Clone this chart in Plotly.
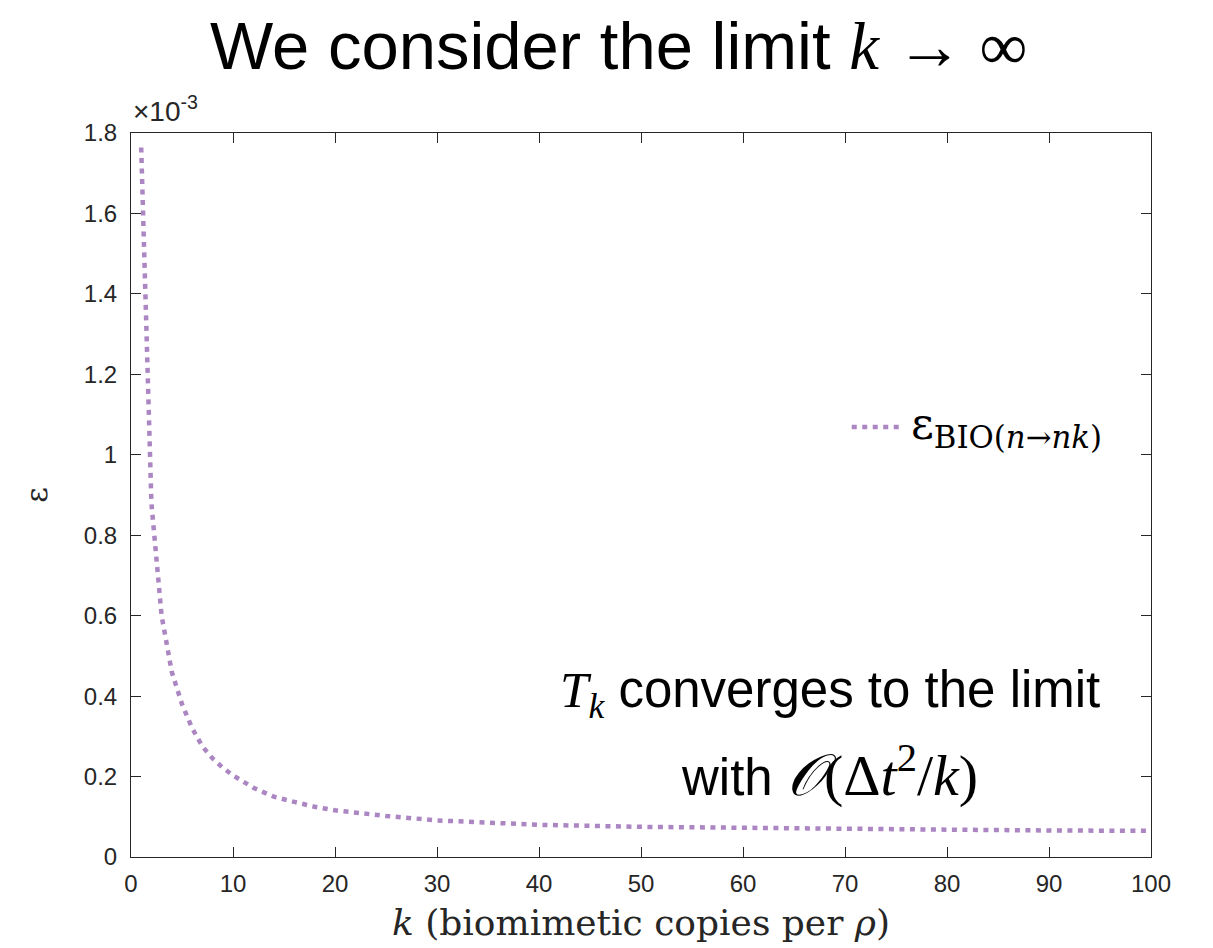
import plotly.graph_objects as go

# Data (epsilon in units of 1e-3)
k_values = [1, 2, 3, 4, 5, 6, 7, 8, 9, 10, 12, 14, 16, 18, 20, 25, 30, 35, 40,
            50, 60, 70, 80, 90, 100]
eps_values = [1.764, 0.88, 0.60, 0.46, 0.38, 0.32, 0.275, 0.245, 0.222, 0.203,
              0.172, 0.150, 0.137, 0.125, 0.116, 0.102, 0.091, 0.085, 0.080,
              0.075, 0.072, 0.070, 0.068, 0.066, 0.065]
x_ticks = [0, 10, 20, 30, 40, 50, 60, 70, 80, 90, 100]
y_ticks = [0, 0.2, 0.4, 0.6, 0.8, 1.0, 1.2, 1.4, 1.6, 1.8]
y_tick_labels = ["0", "0.2", "0.4", "0.6", "0.8", "1", "1.2", "1.4", "1.6", "1.8"]
legend_label = "ε<sub>BIO(<i>n</i>→<i>nk</i>)</sub>"

SANS = "Liberation Sans, Arial, sans-serif"
SERIF = "DejaVu Serif, Liberation Serif, serif"
AX = "#262626"
PURPLE = "#AB86C2"
DASH = "5px,5.5px"

fig = go.Figure()
fig.add_trace(go.Scatter(
    x=k_values, y=eps_values, mode="lines",
    line=dict(color=PURPLE, width=4.5, dash=DASH),
    name=legend_label, showlegend=False,
))

axis_common = dict(
    showline=True, linecolor=AX, linewidth=1, mirror="ticks",
    ticks="inside", ticklen=10, tickcolor=AX, tickwidth=1,
    showgrid=False, zeroline=False,
    tickfont=dict(family=SANS, size=24, color=AX),
)

fig.update_layout(
    width=1213, height=948,
    margin=dict(l=131, r=62, t=133, b=91),
    paper_bgcolor="white", plot_bgcolor="white",
    showlegend=False,
    xaxis=dict(
        range=[0, 100], tickvals=x_ticks, ticklabelstandoff=5, **axis_common,
        title=dict(text="<i>k</i> (biomimetic copies per <i>ρ</i>)",
                   font=dict(family=SERIF, size=36, color=AX), standoff=14),
    ),
    yaxis=dict(
        range=[0, 1.8], tickvals=y_ticks, ticktext=y_tick_labels,
        ticklabelstandoff=8, **axis_common,
        title=dict(text="ε", font=dict(family=SERIF, size=30, color=AX), standoff=27),
    ),
    shapes=[
        # legend sample line
        dict(type="line", xref="paper", yref="paper",
             x0=0.7066, x1=0.7566, y0=0.594, y1=0.594,
             line=dict(color=PURPLE, width=4.5, dash=DASH)),
    ],
    annotations=[
        dict(text="We consider the limit <span style='font-family:Liberation Serif'><i>k</i> → ∞</span>",
             xref="paper", yref="paper", x=0.478, y=1.0, yshift=88,
             xanchor="center", yanchor="middle", showarrow=False,
             font=dict(family=SANS, size=67, color="black")),
        dict(text="×10<sup>-3</sup>", xref="paper", yref="paper",
             x=0.0, y=1.0, xanchor="left", yanchor="bottom", yshift=4,
             showarrow=False, font=dict(family=SANS, size=28, color=AX)),
        dict(text=legend_label, xref="paper", yref="paper",
             x=0.7626, y=0.594, xanchor="left", yanchor="middle",
             showarrow=False, font=dict(family=SERIF, size=44, color="black")),
        dict(text="<span style='font-family:Liberation Serif'><i>T<sub>k</sub></i></span> converges to the limit",
             xref="paper", yref="paper", x=0.685, y=0.226,
             xanchor="center", yanchor="middle", showarrow=False,
             font=dict(family=SANS, size=51, color="black")),
        dict(text="with <span style='font-family:Liberation Serif;font-size:58px'><i>𝒪</i>(Δ<i>t</i><sup>2</sup>/<i>k</i>)</span>",
             xref="paper", yref="paper", x=0.685, y=0.118,
             xanchor="center", yanchor="middle", showarrow=False,
             font=dict(family=SANS, size=51, color="black")),
    ],
)

fig.write_html("out.html")
